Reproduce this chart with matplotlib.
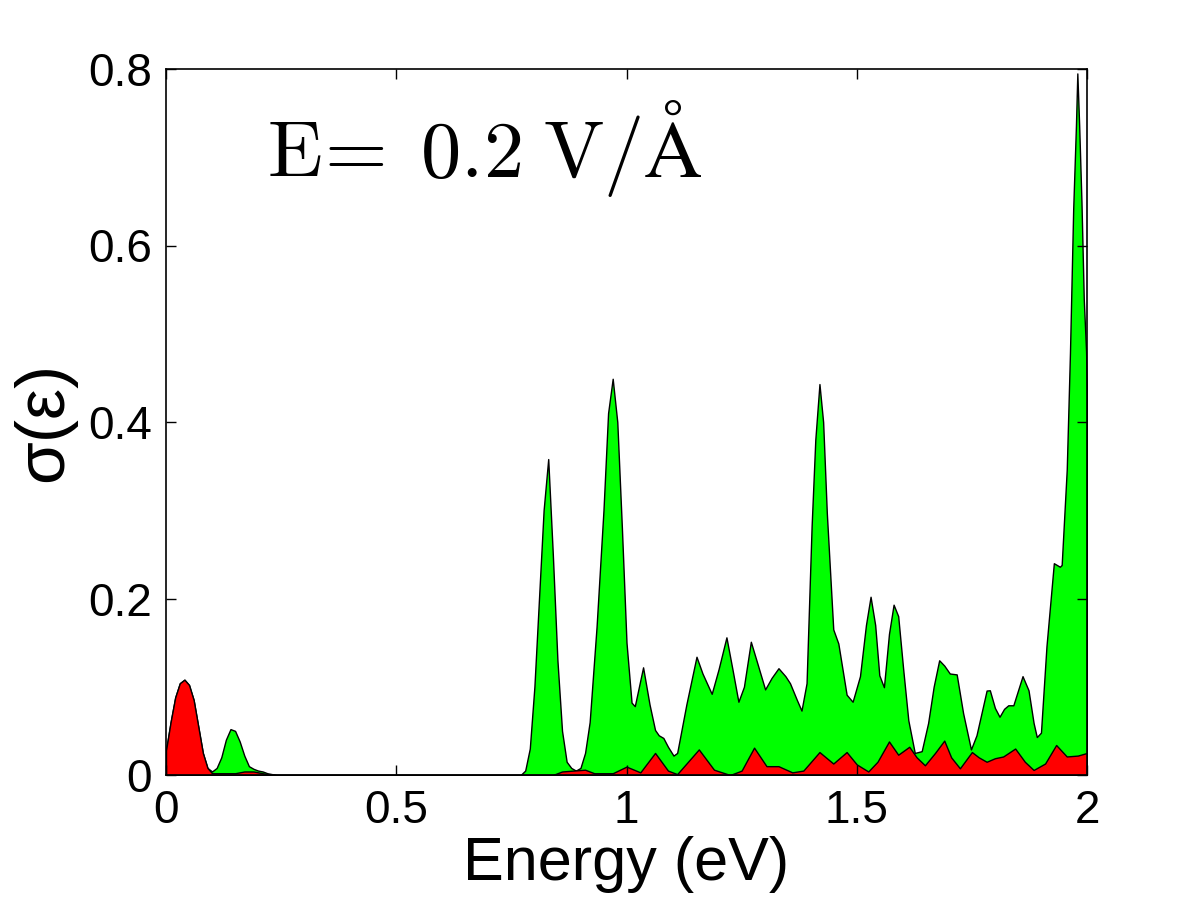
import numpy as np
import matplotlib
matplotlib.use('Agg')
import matplotlib.pyplot as plt

# total sigma (top of green area)
total_e = [0.0, 0.01, 0.02, 0.03, 0.04, 0.05, 0.06, 0.07, 0.08, 0.09, 0.10,
           0.11, 0.12, 0.13, 0.14, 0.15, 0.16, 0.17, 0.18, 0.19, 0.20, 0.21,
           0.22, 0.24, 0.77, 0.78, 0.79, 0.80, 0.81, 0.82, 0.83, 0.84, 0.85,
           0.86, 0.87, 0.88, 0.89, 0.90, 0.91, 0.92, 0.935, 0.95, 0.96, 0.97,
           0.98, 0.99, 1.0, 1.011, 1.018, 1.036, 1.05, 1.062, 1.07, 1.08,
           1.09, 1.102, 1.11, 1.13, 1.152, 1.165, 1.185, 1.20, 1.217, 1.23,
           1.243, 1.255, 1.27, 1.285, 1.301, 1.315, 1.33, 1.345, 1.355, 1.37,
           1.38, 1.391, 1.402, 1.41, 1.419, 1.427, 1.435, 1.449, 1.46, 1.478,
           1.491, 1.507, 1.52, 1.53, 1.54, 1.549, 1.559, 1.57, 1.58, 1.59,
           1.601, 1.612, 1.626, 1.641, 1.655, 1.667, 1.679, 1.69, 1.702,
           1.717, 1.731, 1.748, 1.76, 1.782, 1.789, 1.80, 1.81, 1.82, 1.829,
           1.84, 1.86, 1.873, 1.884, 1.891, 1.90, 1.912, 1.928, 1.941, 1.945,
           1.956, 1.963, 1.97, 1.976, 1.979, 1.983, 1.988, 1.993, 1.998, 2.0]
total_s = [0.028, 0.06, 0.088, 0.104, 0.108, 0.102, 0.085, 0.055, 0.025, 0.008, 0.004,
           0.008, 0.02, 0.04, 0.052, 0.050, 0.038, 0.022, 0.010, 0.007, 0.005, 0.004,
           0.002, 0.0, 0.0, 0.005, 0.03, 0.10, 0.20, 0.30, 0.358, 0.25, 0.13,
           0.05, 0.015, 0.008, 0.005, 0.008, 0.025, 0.06, 0.168, 0.30, 0.41, 0.449,
           0.40, 0.28, 0.15, 0.082, 0.078, 0.122, 0.08, 0.051, 0.045, 0.042,
           0.032, 0.022, 0.025, 0.08, 0.134, 0.115, 0.092, 0.12, 0.156, 0.12,
           0.083, 0.10, 0.151, 0.125, 0.097, 0.11, 0.121, 0.112, 0.104, 0.085,
           0.073, 0.104, 0.282, 0.38, 0.443, 0.40, 0.297, 0.165, 0.149, 0.091,
           0.083, 0.112, 0.17, 0.202, 0.17, 0.113, 0.0995, 0.16, 0.193, 0.18,
           0.119, 0.062, 0.025, 0.027, 0.059, 0.10, 0.130, 0.124, 0.115,
           0.114, 0.070, 0.029, 0.045, 0.0957, 0.096, 0.076, 0.066, 0.075, 0.079,
           0.079, 0.112, 0.096, 0.059, 0.043, 0.048, 0.146, 0.240, 0.236, 0.238,
           0.346, 0.478, 0.641, 0.736, 0.795, 0.736, 0.649, 0.539, 0.48, 0.43]

# lower (red) contribution
red_e = [0.0, 0.01, 0.02, 0.03, 0.04, 0.05, 0.06, 0.07, 0.08, 0.09, 0.10, 0.12,
         0.15, 0.17, 0.19, 0.21, 0.23, 0.84, 0.86, 0.91, 0.93, 0.97, 1.0, 1.03,
         1.062, 1.09, 1.11, 1.157, 1.19, 1.225, 1.25, 1.277, 1.304, 1.33, 1.36,
         1.384, 1.419, 1.449, 1.478, 1.50, 1.525, 1.545, 1.57, 1.59, 1.614, 1.63,
         1.648, 1.67, 1.69, 1.705, 1.724, 1.75, 1.765, 1.782, 1.80, 1.818, 1.844,
         1.865, 1.884, 1.909, 1.933, 1.956, 1.98, 2.0]
red_s = [0.028, 0.06, 0.088, 0.104, 0.108, 0.102, 0.085, 0.055, 0.025, 0.008, 0.002, 0.002,
         0.002, 0.004, 0.004, 0.002, 0.0, 0.0, 0.004, 0.006, 0.002, 0.002, 0.0095, 0.003,
         0.025, 0.005, 0.001, 0.029, 0.006, 0.0, 0.005, 0.031, 0.010, 0.010, 0.003,
         0.005, 0.026, 0.013, 0.026, 0.012, 0.004, 0.015, 0.038, 0.023, 0.032, 0.020,
         0.011, 0.025, 0.039, 0.020, 0.0076, 0.026, 0.020, 0.015, 0.019, 0.021, 0.030,
         0.015, 0.0057, 0.013, 0.034, 0.021, 0.022, 0.025]

plt.rcParams['font.family'] = ['Liberation Sans', 'DejaVu Sans']

fig = plt.figure(figsize=(12.01, 9.01), dpi=100)
ax = fig.add_axes([166 / 1201, 1 - 775 / 901, (1087 - 166) / 1201, (775 - 69) / 901])

ax.fill_between(total_e, 0, total_s, facecolor='#00ff00', edgecolor='black', linewidth=1)
ax.fill_between(red_e, 0, red_s, facecolor='#ff0000', edgecolor='black', linewidth=1)

ax.set_xlim(0, 2)
ax.set_ylim(0, 0.8)
ax.set_xticks([0, 0.5, 1, 1.5, 2])
ax.set_xticklabels(['0', '0.5', '1', '1.5', '2'])
ax.set_yticks([0, 0.2, 0.4, 0.6, 0.8])
ax.set_yticklabels(['0', '0.2', '0.4', '0.6', '0.8'])
ax.tick_params(direction='in', length=7, width=1, top=True, right=True,
               labelsize=33, pad=10)
for sp in ax.spines.values():
    sp.set_linewidth(1.2)

ax.set_xlabel('Energy (eV)', fontsize=44, labelpad=2)
ax.set_ylabel('σ(ε)', fontsize=50, labelpad=9)

ax.text(0.22, 0.678, r'$\mathrm{E}\!=\;0.2\;\mathrm{V}/\mathrm{\AA}$',
        fontsize=58, math_fontfamily='cm')

fig.savefig('out.png', dpi=100)
